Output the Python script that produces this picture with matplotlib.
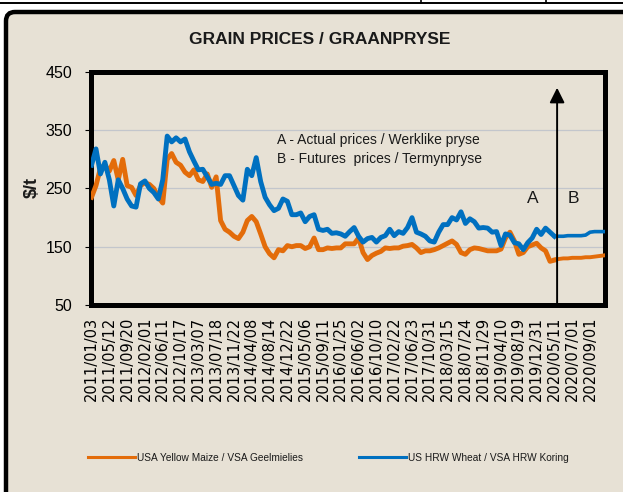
import numpy as np
import matplotlib
matplotlib.use("Agg")
import matplotlib.pyplot as plt
from matplotlib.patches import FancyBboxPatch
from matplotlib.lines import Line2D
from matplotlib.transforms import IdentityTransform

# category labels on the x axis
tick_labels = ['2011/01/03', '2011/05/12', '2011/09/20', '2012/02/01', '2012/06/11',
               '2012/10/17', '2013/03/07', '2013/07/18', '2013/11/22', '2014/04/08',
               '2014/08/14', '2014/12/22', '2015/05/06', '2015/09/11', '2016/01/25',
               '2016/06/02', '2016/10/10', '2017/02/22', '2017/06/23', '2017/10/31',
               '2018/03/15', '2018/07/24', '2018/11/29', '2019/04/10', '2019/08/19',
               '2019/12/31', '2020/05/11', '2020/07/01', '2020/09/01']

# actual prices ($/t), 4 readings per label interval
maize_actual = [235, 255, 285, 290, 280, 298, 265, 300, 255, 252,
                238, 255, 260, 257, 250, 235, 225, 300, 310, 295,
                290, 278, 272, 282, 265, 262, 275, 252, 270, 195,
                180, 175, 168, 164, 175, 195, 202, 193, 172, 150,
                138, 131, 145, 143, 152, 150, 152, 152, 147, 150,
                165, 145, 145, 148, 147, 148, 148, 155, 155, 155,
                165, 140, 128, 135, 139, 142, 148, 147, 148, 148,
                151, 152, 154, 148, 140, 143, 143, 145, 148, 152,
                156, 160, 154, 140, 137, 145, 148, 147, 145, 143,
                143, 143, 146, 165, 175, 160, 137, 140, 150, 153,
                156, 148, 143, 125, 127]
wheat_actual = [290, 318, 275, 295, 265, 220, 265, 250, 232, 220,
                218, 258, 263, 250, 243, 232, 265, 340, 330, 337,
                330, 335, 313, 297, 282, 283, 270, 257, 259, 257,
                272, 272, 255, 238, 230, 283, 272, 303, 262, 235,
                222, 212, 216, 232, 228, 205, 205, 208, 193, 202,
                205, 180, 178, 180, 173, 174, 172, 168, 176, 183,
                168, 158, 164, 166, 158, 166, 169, 180, 169, 176,
                173, 183, 200, 175, 172, 168, 160, 158, 175, 188,
                188, 200, 196, 210, 190, 198, 193, 182, 183, 182,
                175, 176, 152, 172, 170, 157, 155, 145, 157, 165,
                180, 171, 182, 175, 168]

# futures prices from 2020/05/11 on
maize_futures = [128, 129, 130, 130, 131, 131, 131, 132, 132, 133, 134, 135, 136]
wheat_futures = [168, 168, 168, 169, 169, 169, 169, 170, 175, 176, 176, 176, 176]

series_names = ['USA Yellow Maize / VSA Geelmielies', 'US HRW Wheat / VSA HRW Koring']
orange = '#E36C0A'
blue = '#0070C0'
beige = '#e7e1d5'

plt.rcParams['font.family'] = ['Liberation Sans', 'DejaVu Sans']
plt.rcParams['text.color'] = '#1a1a1a'

W, H = 623, 492
fig = plt.figure(figsize=(W / 100, H / 100), dpi=100, facecolor='white')

# outer frame of the panel
frame = FancyBboxPatch((6, -30), 660, 510, boxstyle='round,pad=0,rounding_size=9',
                       transform=IdentityTransform(), lw=3.2, ec='black', fc=beige, zorder=-10)
fig.add_artist(frame)
fig.add_artist(Line2D([0, W], [H - 3, H - 3], transform=IdentityTransform(), color='black', lw=1.4))
for xv in (421, 546):
    fig.add_artist(Line2D([xv, xv], [H - 3, H], transform=IdentityTransform(), color='black', lw=1.2))

ax = fig.add_axes([91 / W, 1 - 305 / H, 514 / W, 233 / H])
ax.set_facecolor('none')

x_act = np.arange(len(maize_actual)) * 0.25
x_fut = 26 + np.arange(len(maize_futures)) * 0.25

ax.plot(x_act, maize_actual, color=orange, lw=3.5, solid_joinstyle='round', zorder=3)
ax.plot(x_act, wheat_actual, color=blue, lw=3.5, solid_joinstyle='round', zorder=4)
ax.plot(x_fut, maize_futures, color=orange, lw=2.8, zorder=3)
ax.plot(x_fut, wheat_futures, color=blue, lw=2.6, zorder=4)

ax.set_xlim(-0.03, 28.84)
ax.set_ylim(50, 450)
ax.set_yticks([50, 150, 250, 350, 450])
ax.yaxis.grid(True, color='#c3c6cc', lw=0.9)
ax.set_axisbelow(True)
ax.set_xticks(range(len(tick_labels)))
ax.set_xticklabels(tick_labels, rotation=90, family='DejaVu Sans', fontsize=10.5, va='top')
ax.tick_params(axis='x', length=0, pad=8.5)
ax.tick_params(axis='y', length=4.3, width=0.8, pad=9.4, labelsize=11.5)
for s in ax.spines.values():
    s.set_linewidth(3.6)
    s.set_color('black')

# separation between actual and futures prices
ax.annotate('', xy=(26.15, 423), xytext=(26.15, 50),
            arrowprops=dict(arrowstyle='-|>,head_length=0.9,head_width=0.45',
                            color='black', lw=1.4, shrinkA=0, shrinkB=0),
            zorder=5)

ax.text(10.44, 333, 'A - Actual prices / Werklike pryse', fontsize=10, va='center', ha='left')
ax.text(10.44, 301, 'B - Futures  prices / Termynpryse', fontsize=10, va='center', ha='left')
ax.text(24.8, 232, 'A', fontsize=12.5, va='center', ha='center')
ax.text(27.05, 232, 'B', fontsize=12.5, va='center', ha='center')

fig.text(320 / W, 1 - 39 / H, 'GRAIN PRICES / GRAANPRYSE', ha='center', va='center',
         fontsize=12.5, fontweight='bold')
fig.text(32 / W, 1 - 188 / H, '$/t', rotation=90, ha='center', va='center',
         fontsize=13, fontweight='bold')

handles = [Line2D([], [], color=orange, lw=2.2), Line2D([], [], color=blue, lw=2.2)]
fig.legend(handles, series_names, loc='center left', bbox_to_anchor=(88 / W, 1 - 458 / H),
           ncol=2, frameon=False, fontsize=7.3, handlelength=4.6, handletextpad=0.2,
           columnspacing=5.6, borderpad=0, borderaxespad=0)

fig.savefig('out.png', dpi=100, facecolor='white')
